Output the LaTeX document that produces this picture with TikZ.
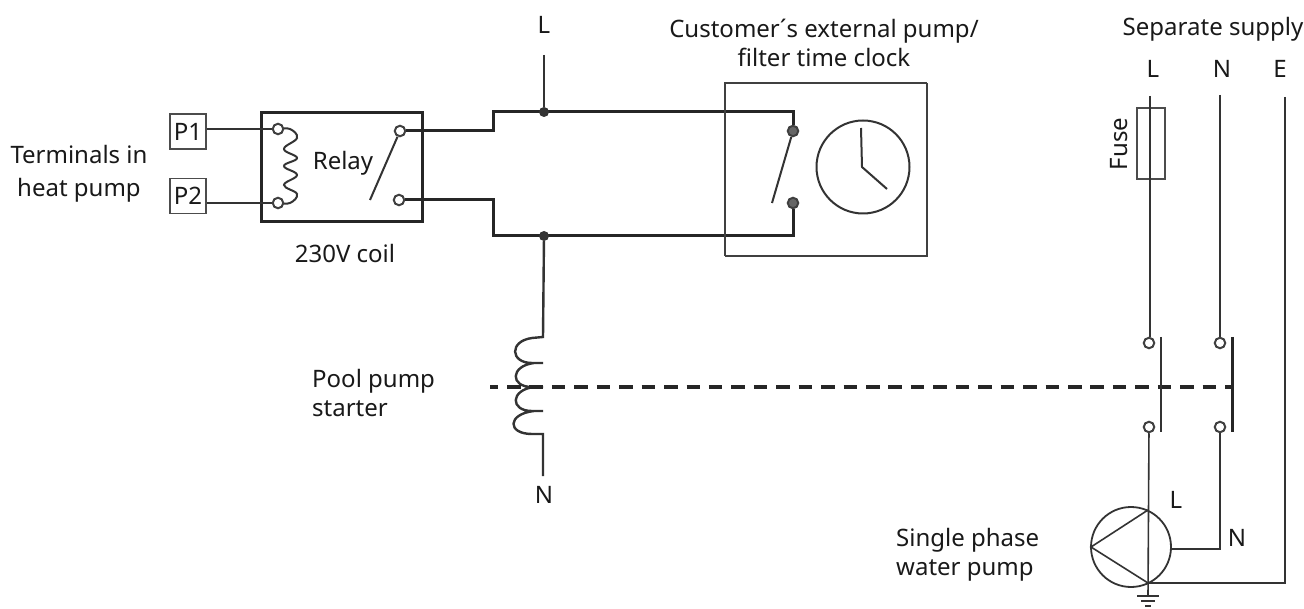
\documentclass[tikz,border=0pt]{standalone}
\usepackage{fontspec}
\setmainfont{Noto Sans}
\begin{document}
\begin{tikzpicture}[x=1pt,y=-1pt,
  wire/.style={draw=black!80,line width=1.6pt},
  thick wire/.style={draw=black!85,line width=3pt},
  box/.style={draw=black!75,line width=1.5pt},
  heavy box/.style={draw=black!85,line width=3pt},
  term/.style={circle,draw=black!75,line width=2pt,fill=white,minimum size=10.5pt,inner sep=0pt},
  dark term/.style={term,fill=black!60},
  dot/.style={circle,fill=black!80,minimum size=10pt,inner sep=0pt},
  lab/.style={font=\fontsize{24}{29}\selectfont,text=black!90,inner sep=0pt,align=center},
  pbox/.style={draw=black!70,line width=1.4pt,minimum width=36pt,minimum height=35pt,inner sep=0pt,font=\fontsize{24}{29}\selectfont,text=black!90}]
\useasboundingbox (0,0) rectangle (1304,609);
\fill[white] (0,0) rectangle (1304,609);
% text
\node[lab] (tL) at (544,25) {L};
\node[lab] (cust) at (824,43) {Customer´s external pump/\\filter time clock};
\node[lab] (sep) at (1213,29) {Separate supply};
\node[lab] (sL) at (1153,69) {L};
\node[lab] (sN) at (1222,69) {N};
\node[lab] (sE) at (1280,69) {E};
\node[lab] (termtxt) at (79,174) {Terminals in\\[4pt]heat pump};
\node[lab] (coiltxt) at (345,254) {230V coil};
\node[lab] (relay) at (343,163) {Relay};
\node[lab,align=left,anchor=west] (pool) at (312,393) {Pool pump\\starter};
\node[lab] (botN) at (544,495) {N};
\node[lab] (pL) at (1176,500) {L};
\node[lab] (pN) at (1237,538) {N};
\node[lab,align=left,anchor=west] (single) at (896,554.5) {Single phase\\water pump};
\node[lab,rotate=90] (fusetxt) at (1119,144) {Fuse};
% relay
\node[pbox] (P1) at (188,131.5) {P1};
\node[pbox] (P2) at (188,196) {P2};
\draw[heavy box] (261,113) rectangle (422,222);
\coordinate (C1) at (278,129);
\coordinate (C2) at (278,203);
\draw[wire,line width=2pt] plot[smooth,tension=.7] coordinates {(C1) (290,129) (297,138) (284,149) (297,158) (284,166) (297,175) (284,185) (297,194) (290,203) (C2)};
\node[term] (c1) at (C1) {};
\node[term] (c2) at (C2) {};
\node[term] (r1) at (400,131) {};
\node[term] (r2) at (399,200) {};
\draw[wire] (P1.east |- c1) -- (c1);
\draw[wire] (P2.east |- c2) -- (c2);
\coordinate (armR) at (370,200);
\draw[wire,line width=2pt] (r1) -- (armR);
% top/bottom rails
\coordinate (Jt) at (544,112);
\coordinate (Jb) at (544,236);
\coordinate (a1) at (493,131); \coordinate (a2) at (493,112);
\coordinate (b1) at (493,200); \coordinate (b2) at (493,236);
\node[dark term] (k1) at (793,131) {};
\node[dark term] (k2) at (793,203) {};
\draw[thick wire] (r1) -- (a1) -- (a2) -- (Jt) -- (793,112) -- (k1);
\draw[thick wire] (r2) -- (b1) -- (b2) -- (Jb) -- (793,236) -- (k2);
\node[dot] (jt) at (Jt) {};
\node[dot] (jb) at (Jb) {};
\coordinate (Ltop) at (544,55);
\draw[wire] (Ltop) -- (jt);
% clock
\draw[box,line width=2.2pt] (725,256) -- (725,83) -- (927,83);
\draw[box] (927,83) -- (927,256) -- (725,256);
\coordinate (armK) at (772,203);
\draw[wire,line width=2pt] (k1) -- (armK);
\node[circle,draw=black!80,line width=2pt,minimum size=93pt,inner sep=0pt] (clock) at (863,167) {};
\coordinate (hand1) at (861,128);
\coordinate (hand2) at (887,189);
\draw[wire,line width=2pt] (hand1) -- (862,167) -- (hand2);
% starter coil
\coordinate (co1) at (543,337);
\coordinate (co2) at (543,434);
\draw[wire,line width=2.4pt] (jb) -- (co1) -- (532,338)
   .. controls (509,341) and (510,363) .. (532,363) -- (543,363)
   (534,363) .. controls (510,366) and (510,387) .. (532,387) -- (543,387)
   (534,387) .. controls (510,390) and (510,411) .. (532,411) -- (543,411)
   (534,411) .. controls (507,414) and (507,434) .. (532,434) -- (co2) -- (543,476);
% dashed link
\coordinate (d1) at (490,387);
\coordinate (d2) at (1232,387);
\draw[draw=black!85,line width=3.2pt,dash pattern=on 13.5pt off 8.94pt,dash phase=5.44pt] (d1) -- (d2);
% supply
\node[term] (s1) at (1149,343) {};
\node[term] (s2) at (1149,427) {};
\node[term] (n1) at (1220,343) {};
\node[term] (n2) at (1220,427) {};
\draw[wire] (1161,337) -- (1161,432);
\draw[thick wire] (1232,337) -- (1232,432);
\node[draw=black!70,line width=1.4pt,minimum width=28pt,minimum height=71pt,inner sep=0pt] (fuse) at (1151,143.5) {};
\coordinate (sLt) at (1150,96);
\coordinate (sNt) at (1220,95);
\coordinate (sEt) at (1285,97);
\draw[wire] (sLt) -- (s1.north -| sLt);
\draw[wire] (sNt) -- (n1);
% pump
\node[circle,draw=black!80,line width=1.8pt,minimum size=80pt,inner sep=0pt] (pump) at (1131,547) {};
\coordinate (t1) at (1091,547);
\coordinate (t2) at (1148,510);
\coordinate (t3) at (1148,583);
\draw[wire] (t2) -- (t1) -- (t3);
\coordinate (g0) at (1148,596);
\draw[wire] (s2) -- (g0);
\coordinate (nc) at (1220,549);
\draw[wire] (n2) -- (nc) -- (pump.east |- nc);
\coordinate (ec) at (1285,583);
\draw[wire] (sEt) -- (ec) -- (t3);
\draw[wire] (1137,596) -- (1159,596) (1141,601) -- (1155,601) (1145,606) -- (1151,606);
\end{tikzpicture}
\end{document}
